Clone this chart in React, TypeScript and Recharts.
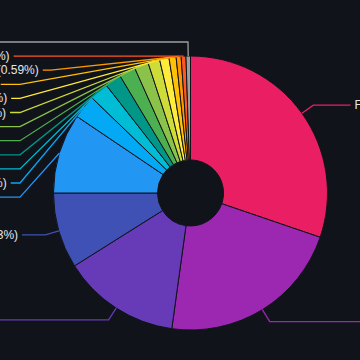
import React from "react";
import { PieChart, Pie, Cell } from "recharts";

const names = [
  "Fuji Apple", "Durian", "Orange", "Blackcurrants", "Grape", "Cantaloupe",
  "Lychee", "Cherry", "Papaya", "Apricot", "Clementine", "Gooseberry",
  "Blueberry", "Mandarin Orange", "Watermelon", "Quince",
];
const shares = [
  30.24, 21.94, 13.89, 8.93, 9.44, 2.78, 2.22, 1.94, 1.94, 1.67, 1.39, 1.11,
  0.83, 0.59, 0.56, 0.53,
];
const colors = [
  "#e91e63", "#9c27b0", "#673ab7", "#3f51b5", "#2196f3", "#03a9f4",
  "#00bcd4", "#009688", "#4caf50", "#8bc34a", "#cddc39", "#ffeb3b",
  "#ffc107", "#ff9800", "#ff5722", "#9e9e9e",
];

const data = names.map((name, i) => ({ name, value: shares[i] }));

const BG = "#11131b";
const CX = 190.5;
const CY = 193;
const R_OUT = 137;
const R_IN = 33;
const R_LABEL = 151;
const ROW = 14.1;
const LEFT_EDGE = -100;
const RIGHT_EDGE = 460;
const FONT = "12px 'Liberation Sans', Arial, sans-serif";
const RAD = Math.PI / 180;

const ctx =
  typeof document !== "undefined"
    ? document.createElement("canvas").getContext("2d")
    : null;
const textWidth = (s: string) => {
  if (!ctx) return s.length * 6.5;
  ctx.font = FONT;
  return ctx.measureText(s).width;
};

// label rows: same angles recharts uses (start 90, clockwise), then pushed apart
const total = shares.reduce((a, b) => a + b, 0);
const layout = (() => {
  let cum = 0;
  const items = shares.map((v, i) => {
    const mid = 90 - (360 * (cum + v / 2)) / total;
    cum += v;
    const left = Math.cos(mid * RAD) < 0;
    const y = CY - R_LABEL * Math.sin(mid * RAD);
    const x = CX + R_LABEL * Math.cos(mid * RAD);
    return { i, left, y, x, pushed: false };
  });
  [true, false].forEach((side) => {
    const list = items.filter((d) => d.left === side).sort((a, b) => a.y - b.y);
    for (let k = 1; k < list.length; k++) {
      if (list[k].y < list[k - 1].y + ROW) {
        list[k].y = list[k - 1].y + ROW;
        list[k].pushed = true;
      }
    }
  });
  return items;
})();

const renderLabel = (props: any) => {
  const { cx, cy, midAngle, outerRadius, percent, index } = props;
  const ex = cx + outerRadius * Math.cos(-midAngle * RAD);
  const ey = cy + outerRadius * Math.sin(-midAngle * RAD);
  const l = layout[index];
  const text = `${names[index]} (${(percent * 100).toFixed(2)}%)`;
  const w = textWidth(text);
  const tx = l.left ? LEFT_EDGE : RIGHT_EDGE - w;
  const lineEnd = l.left ? tx + w + 4 : tx - 4;
  let bx = l.x;
  if (l.pushed) {
    bx = l.left
      ? Math.min(l.x, Math.max(lineEnd + 8, 20))
      : Math.max(l.x, Math.min(lineEnd - 8, 340));
  }
  return (
    <g key={`lbl-${index}`}>
      <polyline
        points={`${ex},${ey} ${bx},${l.y} ${lineEnd},${l.y}`}
        fill="none"
        stroke={colors[index]}
        strokeWidth={1.3}
      />
      <text
        x={tx}
        y={l.y}
        textAnchor="start"
        dominantBaseline="central"
        fill="#e6e6e6"
        style={{ font: FONT }}
      >
        {text}
      </text>
    </g>
  );
};

const App: React.FC = () => {
  return (
    <div
      style={{
        position: "fixed",
        left: 0,
        top: 0,
        width: 360,
        height: 360,
        background: BG,
      }}
    >
      <PieChart width={360} height={360} margin={{ top: 0, right: 0, bottom: 0, left: 0 }}>
        <Pie
          data={data}
          dataKey="value"
          nameKey="name"
          cx={CX}
          cy={CY}
          innerRadius={R_IN}
          outerRadius={R_OUT}
          startAngle={90}
          endAngle={-270}
          stroke={BG}
          strokeWidth={1}
          label={renderLabel}
          labelLine={false}
          isAnimationActive={false}
        >
          {data.map((d, i) => (
            <Cell key={d.name} fill={colors[i]} />
          ))}
        </Pie>
      </PieChart>
    </div>
  );
};

export default App;
